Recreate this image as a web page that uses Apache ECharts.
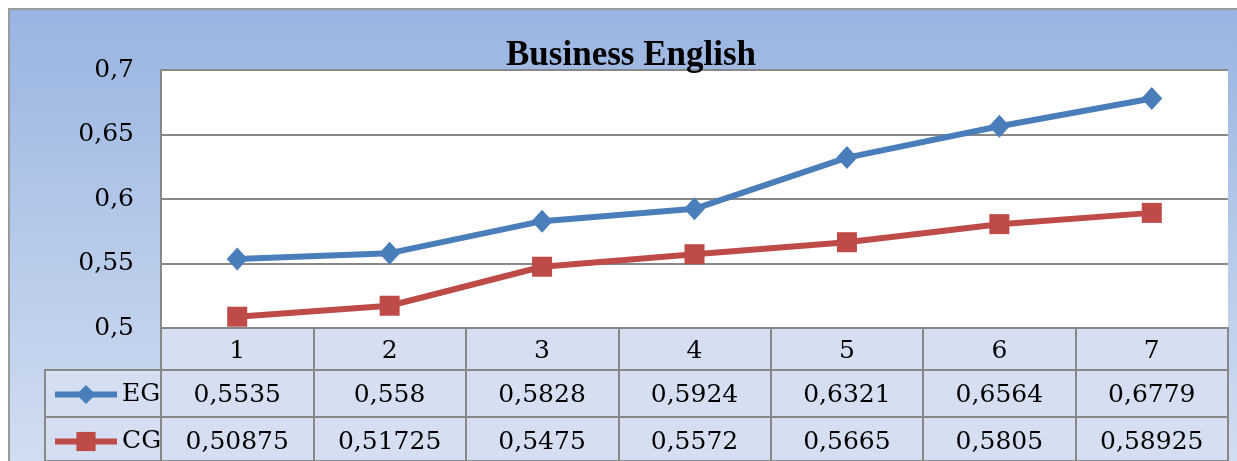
<!DOCTYPE html>
<html>
<head>
<meta charset="utf-8">
<script src="https://cdn.jsdelivr.net/npm/echarts@6/dist/echarts.min.js"></script>
<style>
  html, body { margin: 0; padding: 0; background: #fff; overflow: hidden; }
  #frame {
    position: absolute; left: 8px; top: 8px; width: 1300px; height: 520px;
    border: 2px solid #9a9a9a; box-sizing: border-box;
    background: linear-gradient(to bottom, #99b4e1 0%, #d9e3f3 100%);
  }
  #chart { position: absolute; left: 0; top: 0; width: 1237px; height: 461px; }
</style>
</head>
<body>
<div id="frame"></div>
<div id="chart"></div>
<script>
  // 数据
  var categories = ['1', '2', '3', '4', '5', '6', '7'];
  var egValues = [0.5535, 0.558, 0.5828, 0.5924, 0.6321, 0.6564, 0.6779];
  var cgValues = [0.50875, 0.51725, 0.5475, 0.5572, 0.5665, 0.5805, 0.58925];
  var seriesNames = ['EG', 'CG'];

  var gray = '#888888';
  var cellBg = '#d5dff1';
  var serif = 'DejaVu Serif';
  var colors = ['#4a7ebb', '#be4b48'];

  function comma(v) { return String(v).replace('.', ','); }

  var myChart = echarts.init(document.getElementById('chart'));

  // 表格的一行：网格 + 类目轴（分割线当作单元格边框）
  function rowAxis(idx, data, h) {
    return {
      gridIndex: idx, type: 'category', data: data, position: 'top',
      boundaryGap: true,
      axisLine: {show: false}, axisTick: {show: false},
      axisLabel: {inside: true, margin: h / 2 + 2, verticalAlign: 'middle', interval: 0,
                  color: '#000', fontFamily: serif, fontSize: 25},
      splitLine: {show: true, interval: 0, lineStyle: {color: gray, width: 2}}
    };
  }

  // 图例放在表格左列，每行一个
  function rowLegend(name, top) {
    return {
      data: [name], left: 47, top: top,
      itemWidth: 62, itemHeight: 24,
      lineStyle: {width: 6},
      textStyle: {fontFamily: serif, fontSize: 25, color: '#000'}
    };
  }

  myChart.setOption({
    animation: false,
    title: {
      text: 'Business English', left: 626, top: 33, textAlign: 'center',
      textStyle: {fontFamily: 'Liberation Serif', fontWeight: 'bold', fontSize: 35, color: '#000'}
    },
    legend: [rowLegend(seriesNames[0], 377), rowLegend(seriesNames[1], 424)],
    grid: [
      {left: 161, top: 70, width: 1067, height: 258, show: true, backgroundColor: '#fff', borderWidth: 0},
      {left: 161, top: 328, width: 1067, height: 42, show: true, backgroundColor: cellBg, borderColor: gray, borderWidth: 2},
      {left: 161, top: 370, width: 1067, height: 47, show: true, backgroundColor: cellBg, borderColor: gray, borderWidth: 2},
      {left: 161, top: 417, width: 1067, height: 47, show: true, backgroundColor: cellBg, borderColor: gray, borderWidth: 2},
      {left: 45, top: 370, width: 116, height: 47, show: true, backgroundColor: cellBg, borderColor: gray, borderWidth: 2},
      {left: 45, top: 417, width: 116, height: 47, show: true, backgroundColor: cellBg, borderColor: gray, borderWidth: 2}
    ],
    xAxis: [
      {gridIndex: 0, type: 'category', data: categories, boundaryGap: true,
       axisLine: {show: false}, axisTick: {show: false}, axisLabel: {show: false}, splitLine: {show: false}},
      rowAxis(1, categories, 42),
      rowAxis(2, egValues.map(comma), 47),
      rowAxis(3, cgValues.map(comma), 47),
      {gridIndex: 4, type: 'category', data: [''], show: false},
      {gridIndex: 5, type: 'category', data: [''], show: false}
    ],
    yAxis: [
      {gridIndex: 0, type: 'value', min: 0.5, max: 0.7, interval: 0.05,
       axisLine: {show: true, lineStyle: {color: gray, width: 2}},
       axisTick: {show: false},
       axisLabel: {margin: 27, color: '#000', fontFamily: serif, fontSize: 25,
                   formatter: function (v) { return comma(+v.toFixed(2)); }},
       splitLine: {show: true, lineStyle: {color: gray, width: 2}}},
      {gridIndex: 1, type: 'value', show: false, splitLine: {show: false}},
      {gridIndex: 2, type: 'value', show: false, splitLine: {show: false}},
      {gridIndex: 3, type: 'value', show: false, splitLine: {show: false}},
      {gridIndex: 4, type: 'value', show: false, splitLine: {show: false}},
      {gridIndex: 5, type: 'value', show: false, splitLine: {show: false}}
    ],
    series: [
      {
        name: seriesNames[0], type: 'line', data: egValues,
        symbol: 'diamond', symbolSize: [21, 23],
        lineStyle: {color: colors[0], width: 6},
        itemStyle: {color: colors[0]}
      },
      {
        name: seriesNames[1], type: 'line', data: cgValues,
        symbol: 'rect', symbolSize: 20,
        lineStyle: {color: colors[1], width: 6},
        itemStyle: {color: colors[1]}
      }
    ]
  });
</script>
</body>
</html>
